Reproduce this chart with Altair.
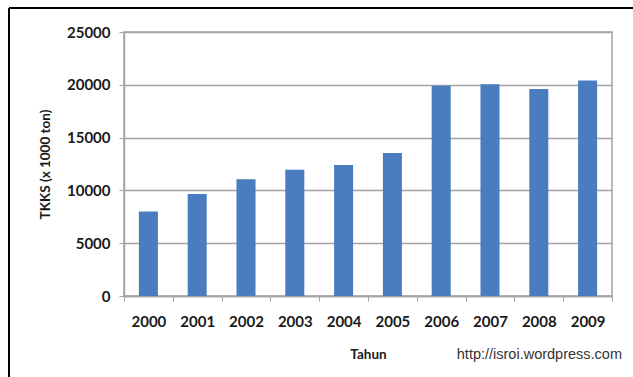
import altair as alt
import pandas as pd

years = ["2000", "2001", "2002", "2003", "2004", "2005", "2006", "2007", "2008", "2009"]
tkks = [8000, 9650, 11050, 11950, 12400, 13550, 19900, 20050, 19600, 20400]
y_ticks = [0, 5000, 10000, 15000, 20000, 25000]
y_title = "TKKS (x 1000 ton)"
x_title = "Tahun"
source_url = "http://isroi.wordpress.com"

df = pd.DataFrame({"year": years, "value": tkks})

GRAY = "#a3a3a3"
TXT = "#1a1a1a"

bars = alt.Chart(df).mark_bar(color="#4A7DBF", width={"band": 0.39}).encode(
    x=alt.X("year:N", sort=years, title=x_title,
            scale=alt.Scale(paddingInner=0, paddingOuter=0),
            axis=alt.Axis(labelAngle=0, tickBand="extent", tickSize=5, tickColor=GRAY,
                          domainColor=GRAY, domainWidth=1.5, labelPadding=13,
                          labelFont="Lato", labelFontSize=15, labelFontWeight="bold",
                          labelColor=TXT, titleFont="Lato", titleFontSize=13.5,
                          titleFontWeight="bold", titleColor=TXT, titlePadding=18,
                          grid=False)),
    y=alt.Y("value:Q", title=y_title,
            scale=alt.Scale(domain=[0, 25000], nice=False),
            axis=alt.Axis(values=y_ticks, format="d", tickSize=5, tickColor=GRAY,
                          domainColor=GRAY, domainWidth=1.5, labelPadding=9,
                          labelFont="Lato", labelFontSize=15, labelFontWeight="bold",
                          labelColor=TXT, titleFont="Lato", titleFontSize=13.5,
                          titleFontWeight="bold", titleColor=TXT, titlePadding=14,
                          grid=True, gridColor=GRAY, gridWidth=1.5)),
)

frame_df = pd.DataFrame({"k": [0]})
top_rule = alt.Chart(frame_df).mark_rule(color="black", strokeWidth=2).encode(
    x=alt.value(-115), x2=alt.value(520), y=alt.value(-24))
left_rule = alt.Chart(frame_df).mark_rule(color="black", strokeWidth=2).encode(
    x=alt.value(-115), y=alt.value(-24), y2=alt.value(360))
url_text = alt.Chart(frame_df).mark_text(
    align="right", baseline="middle", font="Liberation Sans", fontSize=14.5, color="#333333"
).encode(x=alt.value(498), y=alt.value(323), text=alt.value(source_url))

chart = alt.layer(bars, top_rule, left_rule, url_text).properties(
    width=488, height=264,
    autosize=alt.AutoSizeParams(type="none"),
    padding={"left": 124, "top": 32, "right": 21, "bottom": 81},
    background="white",
).configure_view(stroke=GRAY, strokeWidth=1.5)

chart.save("out.html", embed_options={"renderer": "svg", "actions": False})
